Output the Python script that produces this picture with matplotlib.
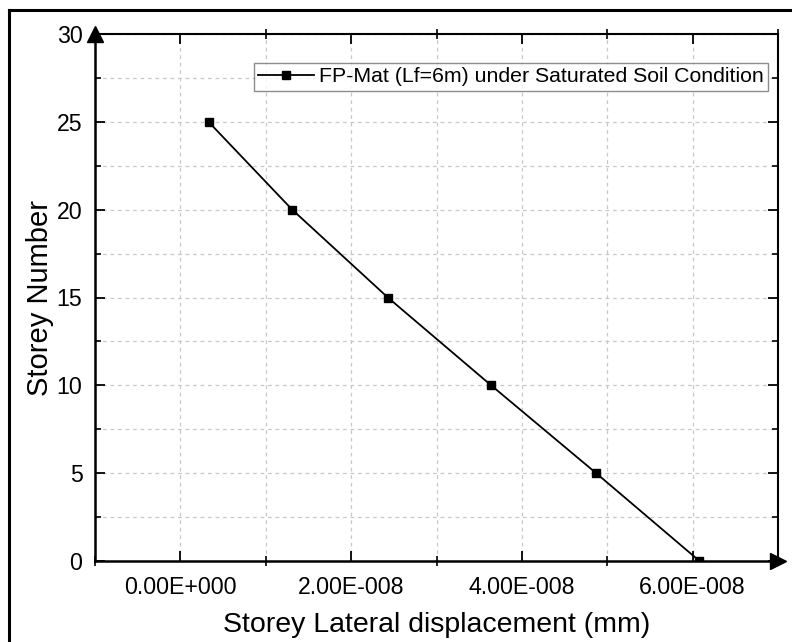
import matplotlib
matplotlib.use("Agg")
import matplotlib.pyplot as plt
from matplotlib.ticker import MultipleLocator, FuncFormatter
from matplotlib.lines import Line2D

plt.rcParams['font.family'] = ['Liberation Sans', 'DejaVu Sans']

displacement = [3.3e-9, 1.31e-8, 2.43e-8, 3.64e-8, 4.87e-8, 6.08e-8]
storey = [25, 20, 15, 10, 5, 0]
series_label = "FP-Mat (Lf=6m) under Saturated Soil Condition"
x_label = "Storey Lateral displacement (mm)"
y_label = "Storey Number"

fig = plt.figure(figsize=(7.92, 6.42), dpi=100)
ax = fig.add_axes([95/792, 1-561/642, (778-95)/792, (561-34)/642])

ax.plot(displacement, storey, color='black', lw=1.3, marker='s', ms=5.5,
        mec='black', mfc='black', label=series_label, zorder=5)

ax.set_xlim(-1e-8, 7e-8)
ax.set_ylim(0, 30)
ax.xaxis.set_major_locator(MultipleLocator(2e-8))
ax.xaxis.set_minor_locator(MultipleLocator(1e-8))
ax.yaxis.set_major_locator(MultipleLocator(5))
ax.yaxis.set_minor_locator(MultipleLocator(2.5))

def fmt(v, pos):
    if abs(v) < 1e-20:
        v = 0.0
    s = f"{v:.2E}"
    m, e = s.split('E')
    return f"{m}E{e[0]}{int(e[1:]):03d}"

ax.xaxis.set_major_formatter(FuncFormatter(fmt))

ax.grid(True, which='both', color='#c8c8c8', linestyle=(0, (3, 3)), lw=0.9)
ax.set_axisbelow(True)

ax.tick_params(which='major', direction='in', length=7, width=1.3,
               top=True, right=True, labelsize=16.7)
ax.tick_params(which='minor', direction='in', length=4, width=1.2,
               top=True, right=True)
ax.tick_params(axis='x', which='minor', direction='inout', length=7)
ax.tick_params(axis='x', which='major', pad=11)
ax.tick_params(axis='y', which='major', pad=9)

for side in ['left', 'bottom']:
    ax.spines[side].set_linewidth(1.8)
for side in ['top', 'right']:
    ax.spines[side].set_linewidth(1.5)

ax.set_xlabel(x_label, fontsize=20.5, labelpad=9)
ax.set_ylabel(y_label, fontsize=21, labelpad=2)

# axis arrows
ax.plot([0], [1], marker='^', ms=11, color='black', transform=ax.transAxes,
        clip_on=False, zorder=10)
ax.plot([1], [0], marker='>', ms=11, color='black', transform=ax.transAxes,
        clip_on=False, zorder=10)

leg = ax.legend(loc='upper right', bbox_to_anchor=(1-(778-768)/683, 1-(63-34)/527),
                fontsize=15.3, frameon=True, fancybox=False, edgecolor='#707070',
                borderpad=0.2, handlelength=2.6, handletextpad=0.25,
                borderaxespad=0)
leg.get_frame().set_linewidth(1.0)

# outer frame
fig.add_artist(Line2D([9/792, 9/792], [0, 1-10/642], color='black', lw=2.2,
                      transform=fig.transFigure))
fig.add_artist(Line2D([9/792, 1], [1-10/642, 1-10/642], color='black', lw=2.2,
                      transform=fig.transFigure))

fig.savefig("out.png", dpi=100)
